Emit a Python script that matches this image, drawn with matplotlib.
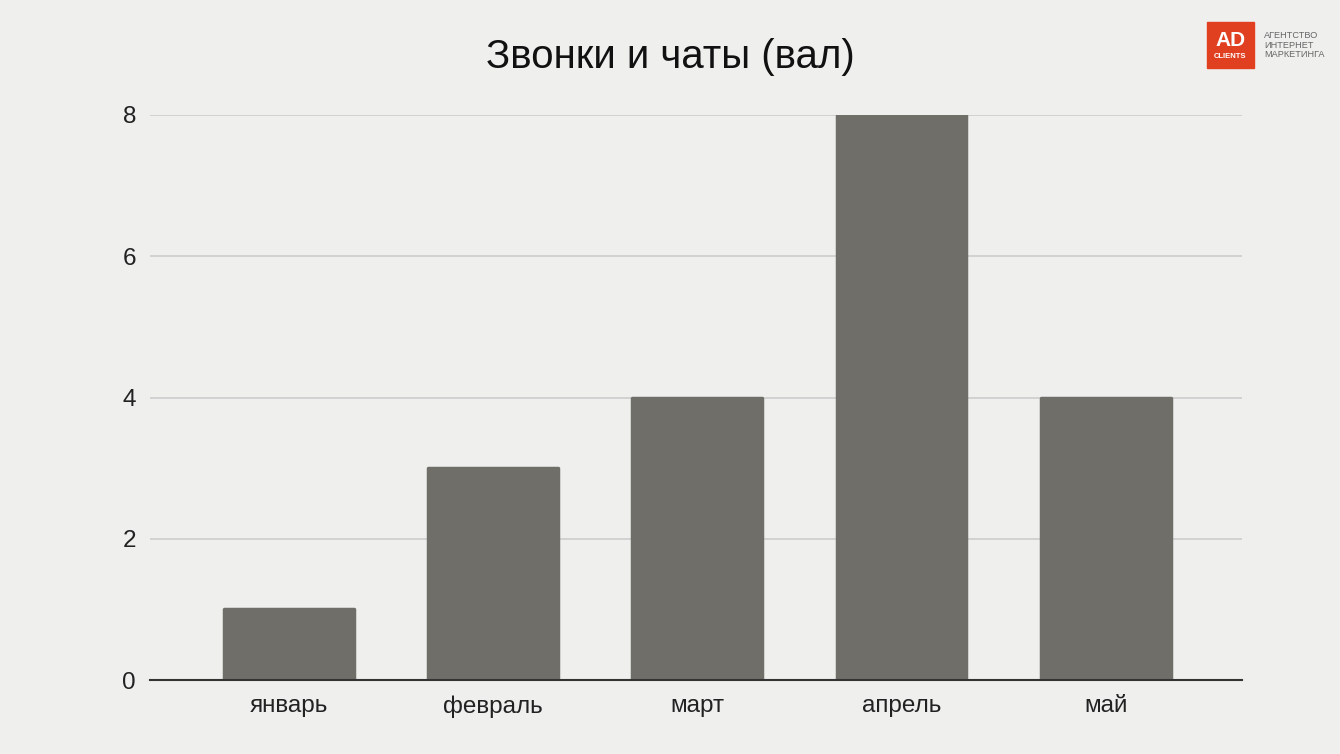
import matplotlib
matplotlib.use("Agg")
import matplotlib.pyplot as plt
from matplotlib.patches import Rectangle

# data
months = ["январь", "февраль", "март", "апрель", "май"]
calls = [1, 3, 4, 8, 4]
yticks = [0, 2, 4, 6, 8]

plt.rcParams['font.family'] = ['Liberation Sans', 'DejaVu Sans']

fig = plt.figure(figsize=(13.4, 7.54), dpi=100)
fig.patch.set_facecolor("#efefee")

ax = fig.add_axes([0.1119, 0.0981, 0.815, 0.7494])
ax.set_facecolor("none")

x = range(len(months))
ax.bar(x, calls, width=0.635, color="#6f6e69", edgecolor="#6f6e69",
       linewidth=2.5, joinstyle="round", zorder=3)

ax.set_xlim(-0.68, 4.667)
ax.set_ylim(0, 8)
ax.set_yticks(yticks)
ax.set_xticks(list(x))
ax.set_xticklabels(months)
ax.grid(axis="y", color="#cfcfcf", linewidth=1.3, zorder=0)
ax.tick_params(axis="both", length=0, labelsize=17.5, labelcolor="#222222")
ax.tick_params(axis="x", pad=11)
ax.tick_params(axis="y", pad=10)
for s in ["top", "right", "left"]:
    ax.spines[s].set_visible(False)
ax.spines["bottom"].set_color("#333333")
ax.spines["bottom"].set_linewidth(1.5)
ax.spines["bottom"].set_zorder(4)

fig.text(0.5, 0.924, "Звонки и чаты (вал)", ha="center", va="center",
         fontsize=29, color="#111111")

# logo
fig.patches.append(Rectangle((1207 / 1340, 1 - 68 / 754), 47 / 1340, 46 / 754,
                             transform=fig.transFigure, color="#e0401f", zorder=5))
fig.text(1230.5 / 1340, 1 - 40 / 754, "AD", ha="center", va="center",
         fontsize=15, fontweight="bold", color="white", zorder=6)
fig.text(1230.5 / 1340, 1 - 56 / 754, "CLIENTS", ha="center", va="center",
         fontsize=5.5, fontweight="bold", color="white", zorder=6)
fig.text(1264 / 1340, 1 - 45 / 754, "АГЕНТСТВО\nИНТЕРНЕТ\nМАРКЕТИНГА",
         ha="left", va="center", fontsize=6.6, color="#666666", linespacing=1.1)

fig.savefig("out.png", dpi=100, facecolor=fig.get_facecolor())
